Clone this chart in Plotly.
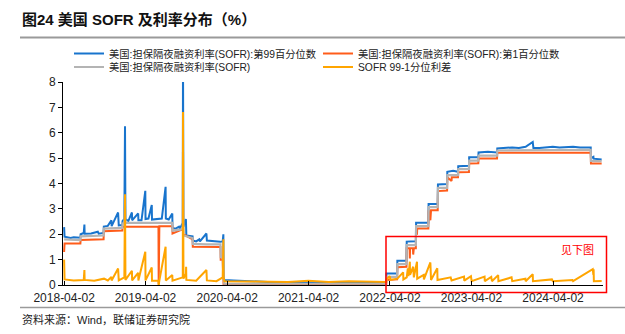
import plotly.graph_objects as go

# ---------------- data ----------------
p99_dates = ["2018-04-02","2018-04-04","2018-05-01","2018-05-15","2018-06-14","2018-06-15","2018-06-29","2018-07-02","2018-07-03",
             "2018-08-01","2018-08-31","2018-09-04","2018-09-26","2018-09-27","2018-10-15","2018-10-31","2018-11-01","2018-11-30",
             "2018-12-03","2018-12-19","2018-12-20","2018-12-28","2018-12-31","2019-01-02","2019-01-15","2019-01-31","2019-02-01",
             "2019-02-28","2019-03-01","2019-03-15","2019-04-01","2019-04-02","2019-04-15","2019-04-30","2019-05-01","2019-05-31",
             "2019-06-14","2019-07-01","2019-07-02","2019-07-15","2019-07-31","2019-08-01","2019-08-15","2019-08-30","2019-09-03",
             "2019-09-16","2019-09-17","2019-09-18","2019-09-19","2019-09-30","2019-10-01","2019-10-02","2019-10-30","2019-10-31",
             "2019-11-15","2019-11-29","2019-12-02","2019-12-31","2020-01-02","2020-02-03","2020-03-02","2020-03-13","2020-03-16",
             "2020-03-17","2020-03-20","2020-04-30","2020-07-01","2020-10-01","2021-01-04","2021-04-01","2021-06-17","2021-10-01",
             "2022-01-03","2022-03-16","2022-03-17","2022-05-04","2022-05-05","2022-06-15","2022-06-16","2022-07-27","2022-07-28",
             "2022-09-21","2022-09-22","2022-11-02","2022-11-03","2022-12-14","2022-12-15","2023-01-10","2023-02-01","2023-02-02",
             "2023-03-22","2023-03-23","2023-05-03","2023-05-04","2023-06-15","2023-07-26","2023-07-27","2023-09-01","2023-10-02",
             "2023-11-01","2023-12-01","2024-01-02","2024-01-05","2024-02-01","2024-03-01","2024-04-01","2024-05-01","2024-06-03",
             "2024-07-01","2024-08-01","2024-09-18","2024-09-19","2024-09-30","2024-10-01","2024-11-06"]
p99_vals = [2.28,1.90,1.85,1.88,1.86,2.00,2.05,2.38,2.02,
            2.03,2.10,2.02,2.05,2.30,2.33,2.55,2.32,2.86,
            2.35,2.36,2.52,2.60,6.26,2.60,2.52,2.86,2.55,
            2.82,2.55,2.55,3.71,2.60,2.62,3.15,2.58,2.62,
            2.62,3.87,2.62,2.58,2.82,2.25,2.22,2.30,2.22,
            2.45,9.00,3.20,2.30,2.60,2.42,1.95,1.92,1.75,
            1.72,1.80,1.72,2.03,1.75,1.72,1.70,1.72,2.00,
            0.30,0.20,0.18,0.15,0.12,0.10,0.09,0.10,0.10,
            0.10,0.10,0.45,0.45,0.96,0.96,1.71,1.72,2.45,
            2.45,3.19,3.19,3.96,3.98,4.46,4.50,4.46,4.68,
            4.70,5.03,5.03,5.22,5.25,5.22,5.38,5.40,5.42,
            5.40,5.45,5.64,5.40,5.40,5.42,5.45,5.42,5.44,
            5.45,5.42,5.42,5.00,5.05,4.98,4.95]

p1_dates = ["2018-04-02","2018-04-04","2018-06-14","2018-06-15","2018-09-26","2018-09-27","2018-12-19","2018-12-20","2019-05-30",
            "2019-05-31","2019-06-03","2019-07-31","2019-08-01","2019-09-17","2019-09-18","2019-10-30","2019-10-31","2020-03-03",
            "2020-03-04","2020-03-13","2020-03-16","2020-03-17","2022-03-16","2022-03-17","2022-05-04","2022-05-05","2022-06-15",
            "2022-06-16","2022-06-29","2022-06-30","2022-07-01","2022-07-14","2022-07-15","2022-07-18","2022-07-27","2022-07-28",
            "2022-08-01","2022-08-02","2022-09-21","2022-09-22","2022-09-30","2022-10-03","2022-11-02","2022-11-03","2022-12-14",
            "2022-12-15","2023-01-03","2023-01-04","2023-02-01","2023-02-02","2023-03-22","2023-03-23","2023-05-03","2023-05-04",
            "2023-07-26","2023-07-27","2024-09-18","2024-09-19","2024-11-06"]
p1_vals = [1.30,1.64,1.64,1.77,1.80,2.12,2.15,2.30,2.30,
           0.02,2.32,2.32,2.03,2.20,2.00,1.80,1.51,1.50,
           1.00,1.00,0.20,0.00,0.00,0.20,0.22,0.70,0.72,
           1.45,1.45,1.05,1.45,1.45,1.20,1.45,1.45,2.23,
           1.98,2.23,2.23,2.95,2.55,2.95,2.95,3.70,3.72,
           4.25,4.10,4.25,4.25,4.44,4.45,4.79,4.80,4.99,
           4.99,5.21,5.21,4.79,4.79]

sofr_dates = ["2018-04-02","2018-06-14","2018-06-15","2018-09-26","2018-09-27","2018-12-19","2018-12-20","2018-12-28","2018-12-31",
              "2019-01-02","2019-07-31","2019-08-01","2019-09-16","2019-09-17","2019-09-18","2019-09-19","2019-10-30","2019-10-31",
              "2019-12-31","2020-03-03","2020-03-04","2020-03-13","2020-03-16","2020-03-20","2020-12-31","2021-06-30","2022-03-16",
              "2022-03-17","2022-05-04","2022-05-05","2022-06-15","2022-06-16","2022-07-27","2022-07-28","2022-09-21","2022-09-22",
              "2022-11-02","2022-11-03","2022-12-14","2022-12-15","2023-02-01","2023-02-02","2023-03-22","2023-03-23","2023-05-03",
              "2023-05-04","2023-07-26","2023-07-27","2024-09-18","2024-09-19","2024-11-06"]
sofr_vals = [1.80,1.77,1.92,1.95,2.22,2.25,2.42,2.45,3.00,
             2.45,2.45,2.14,2.20,5.25,2.55,1.95,1.85,1.62,
             1.60,1.60,1.10,1.10,0.26,0.05,0.05,0.04,0.05,
             0.32,0.32,0.82,0.82,1.57,1.57,2.32,2.32,3.07,
             3.07,3.83,3.83,4.33,4.33,4.57,4.57,4.90,4.90,
             5.10,5.10,5.30,5.33,4.89,4.88]

spread_dates = ["2018-04-02","2018-04-04","2018-05-15","2018-06-29","2018-07-02","2018-07-03","2018-08-15","2018-09-28","2018-10-15",
                "2018-10-31","2018-11-01","2018-11-30","2018-12-03","2018-12-28","2018-12-31","2019-01-02","2019-01-31","2019-02-01",
                "2019-02-28","2019-03-01","2019-04-01","2019-04-02","2019-04-30","2019-05-01","2019-05-30","2019-05-31","2019-06-03",
                "2019-07-01","2019-07-02","2019-07-31","2019-08-01","2019-08-30","2019-09-16","2019-09-17","2019-09-18","2019-09-19",
                "2019-09-30","2019-10-01","2019-10-02","2019-11-15","2019-12-31","2020-01-02","2020-02-14","2020-03-13","2020-03-16",
                "2020-03-17","2020-03-20","2020-06-30","2020-09-30","2020-12-31","2021-04-01","2021-07-01","2021-09-30","2021-12-31",
                "2022-03-16","2022-03-17","2022-04-01","2022-04-04","2022-05-05","2022-05-31","2022-06-01","2022-06-16","2022-06-21",
                "2022-06-24","2022-06-30","2022-07-01","2022-07-15","2022-07-18","2022-08-01","2022-08-02","2022-08-31","2022-09-01",
                "2022-09-30","2022-10-03","2022-10-31","2022-11-01","2022-12-30","2023-01-03","2023-02-28","2023-03-01","2023-03-31",
                "2023-04-03","2023-05-31","2023-06-01","2023-06-30","2023-07-03","2023-07-31","2023-08-01","2023-09-29","2023-10-02",
                "2023-11-30","2023-12-01","2024-01-02","2024-01-03","2024-03-28","2024-04-01","2024-06-28","2024-07-01","2024-09-27",
                "2024-09-30","2024-10-01","2024-10-02","2024-11-06"]
spread_vals = [1.00,0.22,0.18,0.20,0.59,0.20,0.17,0.25,0.18,
               0.32,0.18,0.65,0.18,0.30,3.58,0.20,0.56,0.18,
               0.48,0.18,1.31,0.18,0.69,0.17,0.17,0.00,0.17,
               1.51,0.18,0.39,0.17,0.25,0.30,6.82,1.18,0.25,
               0.45,0.72,0.20,0.17,0.59,0.18,0.15,0.30,1.80,
               0.30,0.15,0.14,0.13,0.12,0.17,0.12,0.15,0.13,
               0.12,0.22,0.35,0.20,0.25,0.50,0.22,0.30,0.66,
               0.35,0.92,0.40,0.72,0.30,0.92,0.25,0.40,0.22,
               0.89,0.20,0.66,0.20,0.30,0.18,0.33,0.17,0.35,
               0.15,0.33,0.15,0.32,0.15,0.39,0.15,0.30,0.15,
               0.25,0.15,0.42,0.15,0.22,0.15,0.20,0.15,0.62,
               0.40,0.62,0.15,0.16]

series_names = ["美国:担保隔夜融资利率(SOFR):第99百分位数",
                "美国:担保隔夜融资利率(SOFR):第1百分位数",
                "美国:担保隔夜融资利率(SOFR)",
                "SOFR 99-1分位利差"]
x_tick_labels = ["2018-04-02","2019-04-02","2020-04-02","2021-04-02","2022-04-02","2023-04-02","2024-04-02"]
y_ticks = [0, 1, 2, 3, 4, 5, 6, 7, 8]

title_text = "图24 美国 SOFR 及利率分布（%）"
source_text = "资料来源：Wind，联储证券研究院"
box_text = "见下图"

# ---------------- styling ----------------
FONT = "Liberation Sans, Arial, Noto Sans CJK SC, sans-serif"
W, H = 625, 334
L, R, T, B = 63, 22, 82, 49
PW, PH = W - L - R, H - T - B


def px(x):
    return (x - L) / PW


def py(y):
    return (H - B - y) / PH


colors = ["#1874CD", "#FF5C1A", "#B4B4B4", "#FFA500"]
widths = [2, 2, 2.2, 2]
legend_ids = ["legend", "legend2", "legend3", "legend4"]

fig = go.Figure()
for xs, ys, name, c, w, lg in zip([p99_dates, p1_dates, sofr_dates, spread_dates],
                                  [p99_vals, p1_vals, sofr_vals, spread_vals],
                                  series_names, colors, widths, legend_ids):
    fig.add_trace(go.Scatter(x=xs, y=ys, name=name, mode="lines",
                             line=dict(color=c, width=w), legend=lg))

leg_common = dict(orientation="h", xanchor="left", yanchor="middle",
                  font=dict(family=FONT, size=10.3, color="#222"), bgcolor="rgba(0,0,0,0)",
                  itemwidth=30)
col1, col2 = 69, 318
row1, row2 = 53.5, 67

fig.update_layout(
    width=W, height=H,
    margin=dict(l=L, r=R, t=T, b=B, pad=0),
    paper_bgcolor="white", plot_bgcolor="white",
    font=dict(family=FONT, size=12, color="#222"),
    showlegend=True,
    legend=dict(x=px(col1), y=py(row1), **leg_common),
    legend2=dict(x=px(col2), y=py(row1), **leg_common),
    legend3=dict(x=px(col1), y=py(row2), **leg_common),
    legend4=dict(x=px(col2), y=py(row2), **leg_common),
    xaxis=dict(type="date", range=["2018-03-28", "2024-11-12"],
               tickvals=x_tick_labels, ticktext=x_tick_labels,
               ticks="inside", ticklen=4, tickcolor="#000", showline=True, linecolor="#000", linewidth=1,
               showgrid=False, zeroline=False, ticklabelstandoff=2, tickfont=dict(size=12, color="#222")),
    yaxis=dict(range=[0, 8], tickvals=y_ticks, ticks="outside", ticklen=4, tickcolor="#000",
               showline=True, linecolor="#000", linewidth=1, showgrid=False, zeroline=False,
               tickfont=dict(size=12, color="#222")),
    shapes=[
        dict(type="line", xref="paper", yref="paper", x0=px(20), x1=px(625), y0=py(37.5), y1=py(37.5),
             line=dict(color="#9A9A9A", width=2)),
        dict(type="line", xref="paper", yref="paper", x0=px(20), x1=px(625), y0=py(307.5), y1=py(307.5),
             line=dict(color="#9A9A9A", width=1.5)),
        dict(type="rect", xref="paper", yref="paper", x0=px(386), x1=px(606.5), y0=py(292.5), y1=py(236.5),
             line=dict(color="#FF0000", width=1.5)),
    ],
    annotations=[
        dict(text="<b>" + title_text + "</b>", xref="paper", yref="paper", x=px(20), y=py(20),
             xanchor="left", yanchor="middle", showarrow=False,
             font=dict(family=FONT, size=15, color="#111")),
        dict(text=source_text, xref="paper", yref="paper", x=px(20), y=py(319),
             xanchor="left", yanchor="middle", showarrow=False,
             font=dict(family=FONT, size=11, color="#222")),
        dict(text=box_text, xref="paper", yref="paper", x=px(577), y=py(250),
             xanchor="center", yanchor="middle", showarrow=False,
             font=dict(family=FONT, size=11, color="#FF0000")),
    ],
)

fig.write_html("out.html")
